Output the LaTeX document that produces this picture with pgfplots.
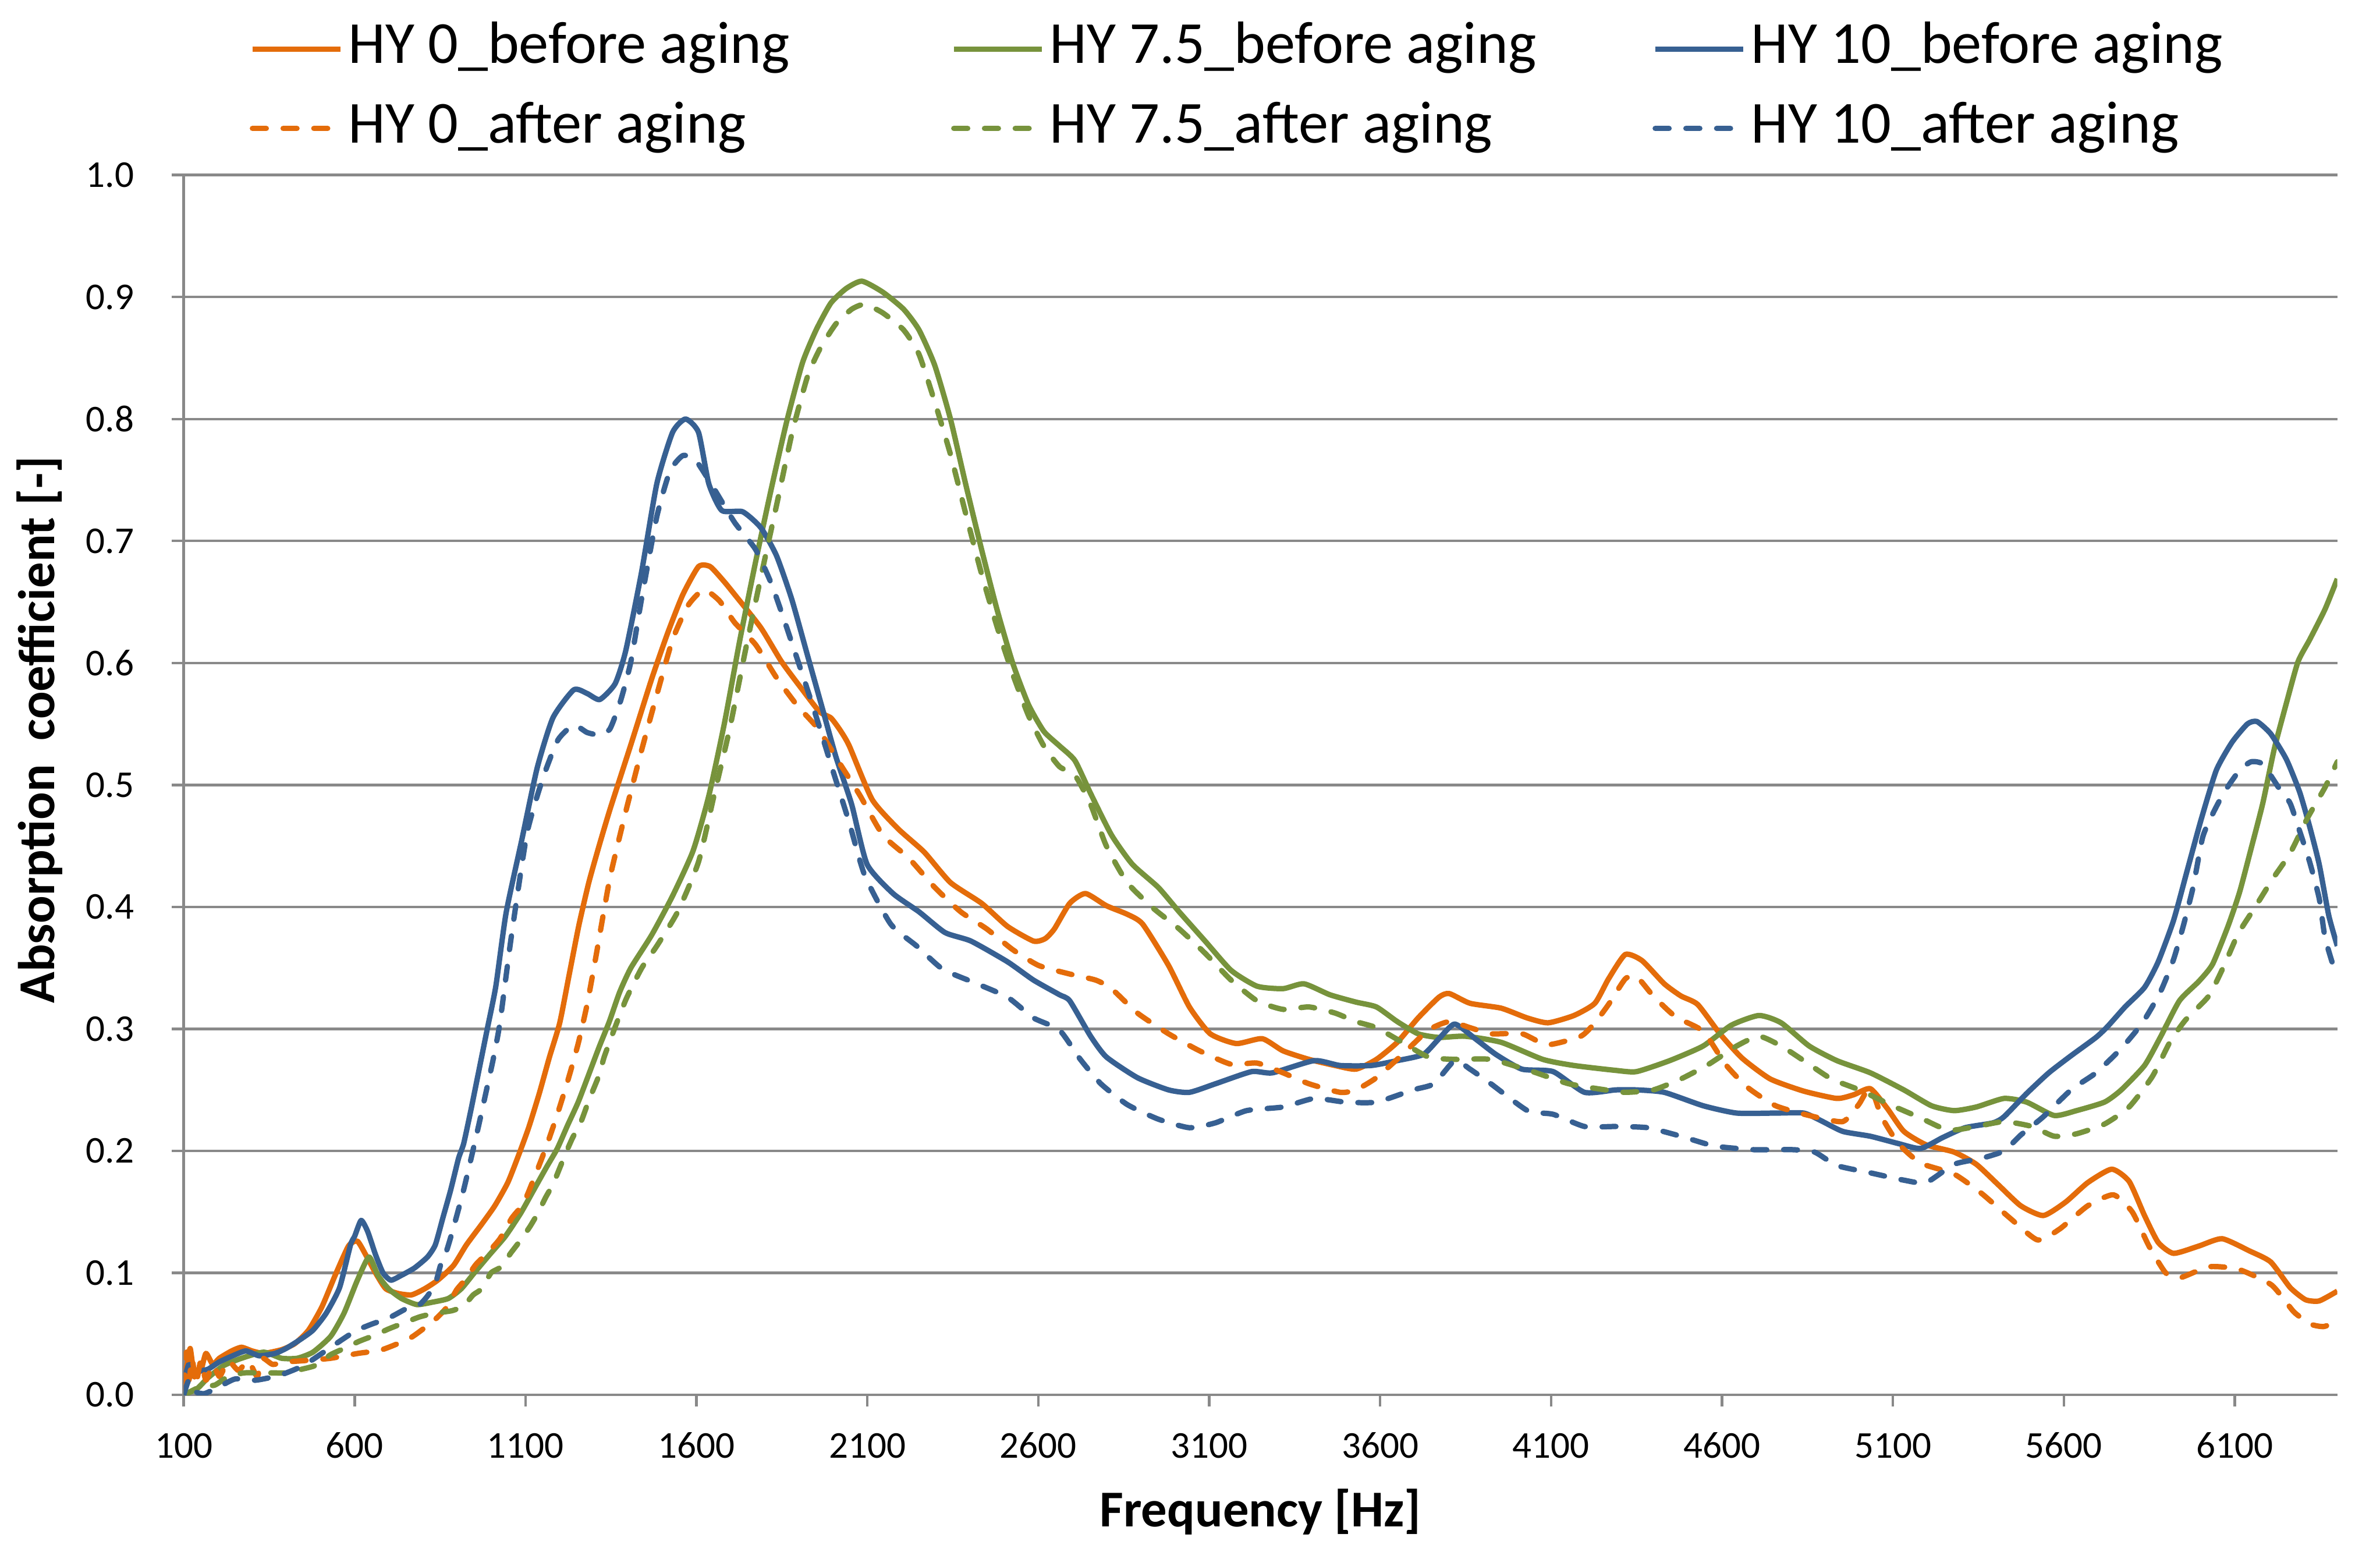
\documentclass[border=0pt]{standalone}
\usepackage{pgfplots}
\pgfplotsset{compat=1.18}
\usepackage{fontspec}
\setmainfont{Carlito}

\definecolor{hyorange}{HTML}{E46C0A}
\definecolor{hygreen}{HTML}{77933C}
\definecolor{hyblue}{HTML}{376092}
\definecolor{gridgray}{HTML}{898989}

\pgfplotsset{
  solidline/.style={line width=1.05pt, line join=round, smooth, tension=0.35},
  dashline/.style={line width=1.05pt, line join=round, line cap=round,
    dash pattern=on 2.7pt off 3.3pt, smooth, tension=0.35},
}

\begin{document}
\begin{tikzpicture}
\begin{axis}[
  scale only axis, width=420.8pt, height=238.3pt,
  xmin=100, xmax=6400, ymin=0, ymax=1,
  xtick={100,600,...,6100},
  ytick={0,0.1,0.2,0.3,0.4,0.5,0.6,0.7,0.8,0.9,1},
  axis lines*=left,
  axis line style={gridgray, line width=0.55pt},
  ymajorgrids, major grid style={gridgray, line width=0.5pt},
  tick align=outside, major tick length=2.3pt,
  tick style={gridgray, line width=0.5pt},
  /pgf/number format/assume math mode=true,
  xticklabel style={/pgf/number format/1000 sep={}, font=\fontsize{7.4}{9}\selectfont,
    inner sep=0pt, anchor=base, yshift=-10.0pt},
  yticklabel style={/pgf/number format/fixed, /pgf/number format/fixed zerofill,
    /pgf/number format/precision=1, font=\fontsize{7.4}{9}\selectfont,
    inner sep=0pt, anchor=east, xshift=-7.2pt},
  xlabel={Frequency [Hz]},
  ylabel={Absorption\ \ coefficient [-]},
  label style={font=\bfseries\fontsize{10.1}{12}\selectfont},
  xlabel style={at={([yshift=-25.8pt]axis description cs:0.5,0)}, anchor=base},
  ylabel style={at={([xshift=-25.3pt,yshift=10.8pt]axis description cs:0,0.5)}, anchor=base},
  legend columns=3,
  legend cell align=left,
  legend image code/.code={\draw[#1] (0pt,0pt) -- (17.2pt,0pt);},
  legend style={at={(axis description cs:0,1)}, anchor=south west,
    xshift=12.7pt, yshift=2.3pt, draw=none, fill=none, inner sep=0pt,
    font=\fontsize{11.65}{13.5}\selectfont,
    nodes={inner sep=1pt, text height=8.4pt, text depth=2.8pt},
    row sep=2.3pt, column sep=0pt},
]

% HY 0 before aging
\addplot[solidline, hyorange] coordinates {
(100,0.014)(110,0.025)(119,0.038)(130,0.018)(150,0.020)(165,0.034)(185,0.025)
(204,0.030)(240,0.036)(269,0.039)(300,0.036)(334,0.034)(386,0.037)(425,0.042)
(465,0.053)(504,0.072)(543,0.098)(582,0.122)(608,0.126)(634,0.114)(661,0.100)
(691,0.087)(729,0.083)(767,0.082)(805,0.087)(843,0.094)(889,0.106)(927,0.123)
(972,0.140)(1010,0.155)(1048,0.174)(1079,0.196)(1109,0.219)(1140,0.247)
(1170,0.277)(1200,0.305)(1228,0.345)(1256,0.385)(1285,0.420)(1315,0.450)
(1347,0.480)(1408,0.533)(1469,0.587)(1515,0.624)(1560,0.656)(1606,0.679)
(1640,0.679)(1680,0.667)(1712,0.656)(1788,0.629)(1849,0.601)(1910,0.578)
(1960,0.560)(1993,0.555)(2020,0.545)(2047,0.532)(2114,0.488)(2190,0.464)
(2266,0.445)(2343,0.420)(2434,0.403)(2510,0.384)(2586,0.372)(2620,0.374)
(2647,0.382)(2692,0.403)(2738,0.411)(2799,0.401)(2860,0.394)(2905,0.386)
(2981,0.352)(3042,0.318)(3103,0.296)(3179,0.288)(3255,0.292)(3316,0.282)
(3392,0.275)(3468,0.270)(3529,0.267)(3589,0.275)(3650,0.289)(3711,0.309)
(3772,0.326)(3802,0.329)(3863,0.321)(3954,0.317)(4030,0.309)(4091,0.305)
(4167,0.311)(4228,0.321)(4268,0.341)(4317,0.361)(4366,0.356)(4431,0.337)
(4480,0.327)(4529,0.320)(4594,0.296)(4659,0.276)(4741,0.259)(4839,0.249)
(4936,0.243)(4985,0.246)(5034,0.251)(5083,0.235)(5132,0.216)(5197,0.205)
(5279,0.199)(5344,0.189)(5409,0.172)(5474,0.155)(5540,0.147)(5605,0.158)
(5670,0.174)(5740,0.185)(5791,0.175)(5836,0.147)(5876,0.125)(5921,0.116)
(5995,0.122)(6063,0.128)(6143,0.118)(6205,0.109)(6262,0.088)(6307,0.078)
(6347,0.077)(6400,0.085)
};
\addlegendentry{\makebox[116.8pt][l]{HY 0\_before aging}}

% HY 7.5 before aging
\addplot[solidline, hygreen] coordinates {
(100,0.000)(139,0.005)(171,0.014)(217,0.024)(269,0.030)(334,0.035)(386,0.030)
(432,0.030)(478,0.035)(530,0.048)(569,0.067)(608,0.094)(642,0.113)(668,0.098)
(699,0.087)(737,0.079)(782,0.074)(828,0.076)(874,0.079)(912,0.087)(950,0.100)
(995,0.115)(1041,0.130)(1086,0.149)(1124,0.168)(1162,0.187)(1193,0.202)
(1223,0.221)(1254,0.240)(1284,0.262)(1315,0.285)(1345,0.306)(1375,0.330)
(1408,0.350)(1469,0.377)(1530,0.409)(1590,0.446)(1636,0.491)(1682,0.551)
(1727,0.619)(1773,0.683)(1819,0.743)(1864,0.798)(1910,0.846)(1950,0.873)
(1993,0.895)(2038,0.907)(2084,0.913)(2145,0.904)(2206,0.890)(2251,0.873)
(2297,0.844)(2343,0.800)(2388,0.746)(2434,0.693)(2479,0.644)(2525,0.600)
(2571,0.566)(2616,0.544)(2662,0.532)(2707,0.520)(2753,0.493)(2814,0.459)
(2875,0.435)(2951,0.416)(3012,0.396)(3088,0.372)(3164,0.348)(3240,0.335)
(3316,0.333)(3377,0.337)(3453,0.328)(3529,0.322)(3589,0.318)(3650,0.306)
(3711,0.296)(3772,0.293)(3848,0.294)(3954,0.289)(4076,0.275)(4167,0.270)
(4289,0.266)(4350,0.265)(4447,0.274)(4545,0.286)(4627,0.303)(4708,0.311)
(4773,0.305)(4855,0.286)(4936,0.274)(5034,0.264)(5132,0.250)(5213,0.237)
(5279,0.233)(5344,0.236)(5425,0.243)(5491,0.240)(5572,0.229)(5637,0.233)
(5719,0.240)(5768,0.250)(5836,0.270)(5882,0.293)(5938,0.323)(5995,0.339)
(6035,0.353)(6080,0.384)(6114,0.412)(6148,0.448)(6182,0.485)(6216,0.530)
(6251,0.567)(6285,0.601)(6319,0.619)(6364,0.644)(6400,0.669)
};
\addlegendentry{\makebox[116.8pt][l]{HY 7.5\_before aging}}

% HY 10 before aging
\addplot[solidline, hyblue] coordinates {
(100,0.010)(115,0.025)(130,0.015)(139,0.019)(171,0.021)(204,0.027)(243,0.032)
(282,0.036)(321,0.032)(367,0.034)(399,0.038)(439,0.045)(478,0.053)(517,0.067)
(556,0.088)(588,0.123)(600,0.130)(619,0.143)(638,0.134)(661,0.115)(683,0.100)
(706,0.094)(737,0.098)(775,0.104)(813,0.113)(836,0.123)(858,0.145)(881,0.168)
(904,0.194)(919,0.206)(942,0.236)(965,0.268)(988,0.300)(1013,0.335)
(1043,0.395)(1089,0.455)(1134,0.514)(1180,0.555)(1241,0.578)(1280,0.575)
(1317,0.570)(1362,0.583)(1393,0.610)(1439,0.674)(1484,0.747)(1530,0.789)
(1568,0.800)(1606,0.789)(1636,0.747)(1674,0.725)(1735,0.724)(1788,0.711)
(1834,0.688)(1879,0.652)(1925,0.606)(1971,0.560)(2008,0.523)(2054,0.484)
(2099,0.435)(2175,0.411)(2251,0.396)(2327,0.379)(2403,0.372)(2510,0.355)
(2586,0.340)(2662,0.328)(2692,0.323)(2753,0.294)(2799,0.277)(2890,0.260)
(2981,0.250)(3042,0.248)(3118,0.255)(3224,0.265)(3285,0.264)(3407,0.274)
(3483,0.270)(3574,0.270)(3650,0.274)(3726,0.279)(3772,0.292)(3818,0.304)
(3878,0.292)(3939,0.279)(4015,0.267)(4106,0.265)(4198,0.248)(4289,0.250)
(4350,0.250)(4431,0.248)(4545,0.237)(4643,0.231)(4757,0.231)(4839,0.231)
(4888,0.225)(4953,0.216)(5034,0.212)(5116,0.206)(5181,0.202)(5246,0.211)
(5311,0.219)(5393,0.223)(5425,0.228)(5491,0.247)(5556,0.264)(5621,0.278)
(5694,0.293)(5728,0.302)(5779,0.318)(5836,0.334)(5876,0.355)(5921,0.389)
(5961,0.430)(6001,0.471)(6046,0.512)(6092,0.535)(6137,0.550)(6165,0.552)
(6205,0.542)(6251,0.521)(6290,0.494)(6319,0.466)(6347,0.435)(6375,0.393)
(6400,0.368)
};
\addlegendentry{\makebox[116.8pt][l]{HY 10\_before aging}}

% HY 0 after aging
\addplot[dashline, hyorange] coordinates {
(100,0.005)(108,0.035)(115,0.012)(125,0.030)(135,0.008)(150,0.028)(165,0.012)
(185,0.025)(205,0.015)(230,0.028)(260,0.020)(289,0.028)(315,0.015)(330,0.030)
(360,0.025)(400,0.027)(450,0.028)(530,0.030)(610,0.034)(680,0.037)(765,0.047)
(836,0.062)(870,0.072)(898,0.086)(925,0.095)(955,0.107)(991,0.117)(1025,0.128)
(1060,0.145)(1094,0.157)(1124,0.177)(1160,0.203)(1193,0.230)(1224,0.258)
(1254,0.288)(1280,0.320)(1305,0.358)(1330,0.398)(1350,0.428)(1393,0.478)
(1439,0.528)(1484,0.574)(1530,0.619)(1575,0.647)(1621,0.660)(1667,0.651)
(1712,0.633)(1773,0.615)(1834,0.588)(1895,0.565)(1956,0.546)(2016,0.519)
(2077,0.492)(2145,0.459)(2221,0.440)(2297,0.416)(2373,0.396)(2449,0.382)
(2525,0.365)(2601,0.352)(2692,0.345)(2768,0.340)(2814,0.333)(2890,0.313)
(2981,0.296)(3072,0.282)(3164,0.271)(3240,0.272)(3316,0.264)(3392,0.255)
(3483,0.248)(3529,0.250)(3589,0.260)(3665,0.279)(3741,0.299)(3802,0.306)
(3863,0.301)(3924,0.296)(4015,0.296)(4089,0.287)(4187,0.294)(4228,0.305)
(4268,0.320)(4317,0.341)(4350,0.343)(4399,0.327)(4464,0.310)(4545,0.298)
(4610,0.271)(4675,0.252)(4757,0.237)(4855,0.229)(4953,0.224)(5000,0.238)
(5034,0.252)(5067,0.228)(5116,0.206)(5181,0.190)(5279,0.181)(5360,0.165)
(5442,0.145)(5523,0.127)(5588,0.136)(5670,0.155)(5745,0.164)(5800,0.150)
(5849,0.122)(5898,0.100)(5940,0.096)(6024,0.105)(6110,0.103)(6208,0.090)
(6273,0.068)(6322,0.058)(6360,0.056)(6400,0.060)
};
\addlegendentry{\makebox[116.8pt][l]{HY 0\_after aging}}

% HY 7.5 after aging
\addplot[dashline, hygreen] coordinates {
(100,0.000)(152,0.007)(191,0.008)(230,0.015)(276,0.018)(320,0.018)(367,0.018)
(406,0.018)(445,0.021)(484,0.024)(530,0.033)(569,0.038)(614,0.044)(660,0.049)
(699,0.054)(744,0.059)(791,0.064)(836,0.067)(885,0.069)(919,0.073)(947,0.082)
(972,0.087)(999,0.100)(1029,0.105)(1056,0.116)(1086,0.127)(1113,0.138)
(1136,0.149)(1159,0.162)(1181,0.173)(1200,0.186)(1219,0.199)(1238,0.211)
(1261,0.223)(1286,0.242)(1315,0.262)(1330,0.277)(1360,0.300)(1395,0.325)
(1440,0.350)(1484,0.368)(1545,0.396)(1606,0.437)(1651,0.491)(1697,0.546)
(1743,0.610)(1788,0.670)(1834,0.729)(1880,0.789)(1925,0.835)(1962,0.858)
(2008,0.878)(2054,0.890)(2092,0.894)(2145,0.887)(2206,0.873)(2251,0.853)
(2297,0.814)(2343,0.771)(2388,0.722)(2434,0.673)(2479,0.630)(2525,0.591)
(2571,0.557)(2616,0.532)(2662,0.515)(2707,0.508)(2753,0.484)(2799,0.450)
(2860,0.420)(2936,0.399)(3012,0.382)(3088,0.362)(3164,0.340)(3240,0.323)
(3316,0.316)(3392,0.318)(3468,0.313)(3529,0.306)(3589,0.301)(3665,0.289)
(3741,0.277)(3818,0.275)(3924,0.275)(4046,0.265)(4152,0.255)(4259,0.250)
(4317,0.248)(4399,0.250)(4480,0.259)(4561,0.271)(4643,0.286)(4708,0.294)
(4773,0.286)(4839,0.274)(4920,0.259)(5002,0.250)(5099,0.237)(5181,0.227)
(5262,0.217)(5344,0.220)(5425,0.224)(5507,0.220)(5572,0.212)(5637,0.214)
(5719,0.222)(5791,0.236)(5859,0.261)(5910,0.289)(5955,0.307)(6024,0.327)
(6069,0.352)(6110,0.378)(6160,0.400)(6211,0.423)(6262,0.444)(6313,0.473)
(6364,0.498)(6400,0.519)
};
\addlegendentry{\makebox[116.8pt][l]{HY 7.5\_after aging}}

% HY 10 after aging
\addplot[dashline, hyblue] coordinates {
(100,0.000)(115,0.012)(130,0.003)(160,0.001)(200,0.006)(250,0.013)(310,0.012)
(380,0.016)(450,0.024)(525,0.038)(600,0.052)(650,0.058)(700,0.063)(760,0.072)
(790,0.074)(813,0.081)(836,0.091)(851,0.106)(870,0.119)(890,0.138)(917,0.166)
(940,0.193)(963,0.221)(985,0.249)(1006,0.276)(1025,0.305)(1058,0.375)
(1104,0.460)(1150,0.505)(1195,0.537)(1241,0.549)(1280,0.543)(1317,0.541)
(1347,0.546)(1378,0.569)(1408,0.601)(1439,0.652)(1484,0.720)(1522,0.757)
(1560,0.770)(1598,0.766)(1651,0.743)(1712,0.715)(1773,0.693)(1819,0.665)
(1864,0.629)(1940,0.565)(2001,0.510)(2047,0.469)(2092,0.426)(2168,0.386)
(2244,0.368)(2320,0.349)(2412,0.338)(2510,0.326)(2586,0.309)(2662,0.299)
(2723,0.275)(2783,0.255)(2860,0.238)(2951,0.226)(3042,0.219)(3118,0.223)
(3209,0.233)(3316,0.236)(3407,0.243)(3498,0.240)(3589,0.240)(3696,0.250)
(3757,0.255)(3818,0.274)(3863,0.267)(3924,0.255)(4031,0.233)(4106,0.230)
(4198,0.220)(4289,0.220)(4382,0.219)(4480,0.212)(4578,0.204)(4692,0.201)
(4806,0.201)(4871,0.199)(4936,0.188)(5034,0.182)(5132,0.176)(5197,0.174)
(5279,0.189)(5360,0.194)(5425,0.200)(5474,0.213)(5540,0.228)(5621,0.250)
(5694,0.264)(5768,0.284)(5830,0.305)(5882,0.330)(5921,0.357)(5950,0.385)
(5978,0.416)(6006,0.457)(6035,0.476)(6069,0.494)(6114,0.512)(6148,0.519)
(6182,0.517)(6228,0.498)(6262,0.485)(6290,0.462)(6319,0.437)(6347,0.407)
(6364,0.375)(6390,0.350)
};
\addlegendentry{\makebox[116.8pt][l]{HY 10\_after aging}}

\end{axis}
\pgfresetboundingbox
\path ([shift={(-35.9pt,-32.0pt)}]current axis.south west)
  rectangle ([shift={(8.35pt,34.2pt)}]current axis.north east);
\end{tikzpicture}
\end{document}
